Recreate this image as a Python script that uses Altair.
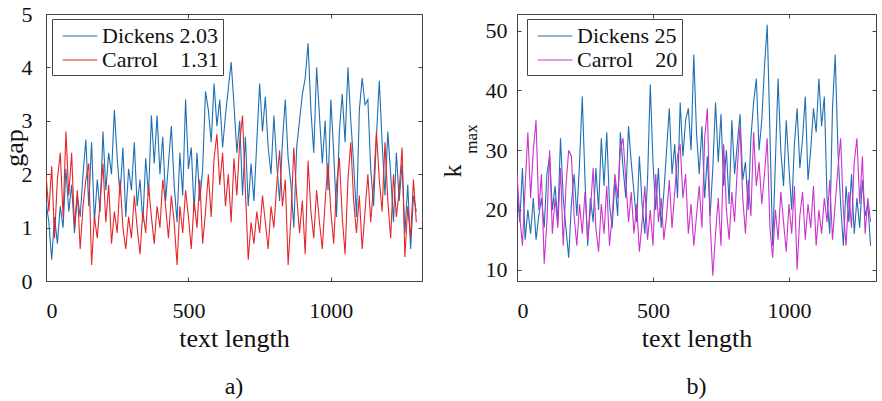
import altair as alt
import pandas as pd

text_length = list(range(0, 1301, 10))

gap_dickens = [
    1.5, 1.1, 0.4, 1.2, 0.7, 1.4, 1.0, 2.1, 1.3, 1.8,
    0.9, 1.6, 1.2, 2.0, 2.65, 1.4, 2.6, 1.1, 1.9, 1.3,
    2.8, 1.7, 2.4, 2.0, 3.2, 2.3, 1.6, 2.5, 1.2, 2.1,
    1.7, 2.6, 1.4, 1.9, 1.1, 2.3, 1.6, 3.1, 2.2, 3.1,
    2.0, 2.7, 1.5, 2.2, 2.9, 1.8, 1.1, 2.4, 1.6, 3.4,
    2.1, 2.5, 1.3, 2.4, 1.5, 2.1, 3.55, 3.2, 2.6, 3.7,
    2.9, 3.4, 2.5, 3.1, 3.6, 4.1, 3.3, 2.4, 3.0, 1.6,
    2.7, 1.4, 2.2, 1.5, 2.6, 3.7, 2.8, 3.45, 2.5, 2.0,
    3.1, 2.2, 1.5, 2.6, 3.4, 2.3, 1.8, 1.0, 2.5, 3.0,
    3.5, 3.8, 4.45, 3.2, 2.4, 4.0, 3.1, 2.2, 3.0, 1.7,
    3.4, 2.4, 1.2, 2.8, 3.5, 2.6, 4.0, 3.0, 2.2, 1.2,
    3.2, 3.8, 3.3, 3.4, 2.1, 1.4, 2.7, 3.75, 2.6, 1.6,
    2.8, 2.0, 1.1, 2.4, 1.5, 2.2, 0.9, 1.8, 0.6, 1.6,
    1.3,
]
gap_carrol = [
    2.0, 1.3, 2.15, 0.8, 1.9, 2.4, 1.2, 2.8, 1.6, 2.4,
    1.0, 1.7, 0.6, 1.4, 1.9, 2.2, 0.3, 1.2, 0.8, 1.5,
    2.2, 1.1, 1.8, 0.7, 1.3, 0.9, 1.9, 1.0, 0.6, 1.2,
    0.8, 1.6, 1.0, 0.5, 1.3, 0.9, 1.8, 1.2, 0.7, 1.4,
    1.0, 1.9, 1.4, 0.8, 1.6, 1.1, 0.3, 1.4, 0.9, 1.7,
    1.2, 0.6, 1.5, 1.0, 1.9, 0.7, 1.3, 2.0, 1.2, 2.3,
    2.75, 1.8, 2.4, 1.4, 2.0, 1.1, 2.3, 1.6, 2.6, 3.1,
    1.7, 0.4, 1.1, 0.7, 1.3, 0.9, 1.6, 1.1, 0.6, 1.4,
    1.0, 1.8, 2.45, 1.4, 1.9, 0.3, 1.2, 2.5, 1.6, 0.9,
    1.5, 0.5, 2.25, 1.3, 0.8, 1.7, 1.1, 0.6, 1.5, 2.2,
    1.3, 0.7, 1.8, 2.3, 1.2, 0.5, 1.9, 2.6, 1.5, 0.9,
    1.6, 0.6, 1.3, 2.0, 1.1, 1.8, 2.8, 1.9, 1.3, 2.6,
    1.5, 0.8, 2.0, 1.2, 1.7, 2.5, 0.45, 1.4, 0.8, 1.9,
    1.1,
]
kmax_dickens = [
    24, 18, 27, 15, 20, 16, 22, 15, 19, 22,
    17, 26, 29, 20, 24, 18, 32, 22, 17, 12,
    21, 26, 19, 28, 39, 25, 14, 22, 18, 27,
    20, 32, 24, 33, 21, 17, 25, 19, 33, 27,
    22, 34, 28, 23, 18, 29, 21, 16, 25, 41,
    28, 20, 27, 17, 23, 30, 37, 26, 31, 22,
    38, 29, 35, 37, 30, 46, 33, 26, 34, 22,
    29, 19, 27, 38, 28, 36, 24, 30, 21, 35,
    26, 31, 36, 25, 28, 20, 32, 38, 42, 30,
    35, 44, 51, 33, 14, 28, 42, 30, 24, 35,
    27, 20, 31, 37, 27, 32, 39, 25, 30, 37,
    33, 42, 34, 39, 22, 16, 37, 46, 30, 21,
    14, 24, 18, 26, 16, 22, 17, 25, 19, 21,
    14,
]
kmax_carrol = [
    26, 19, 14, 24, 33, 22, 30, 35, 20, 26,
    11, 18, 30, 16, 22, 17, 27, 14, 24, 30,
    29, 19, 14, 21, 16, 23, 15, 20, 27, 17,
    13, 21, 16, 24, 14, 19, 26, 22, 30, 32,
    25, 18, 23, 16, 21, 13, 18, 24, 15, 20,
    14, 26, 18, 22, 15, 19, 25, 17, 23, 29,
    31, 22, 26, 16, 21, 14, 19, 24, 17, 32,
    37, 18, 9, 16, 22, 14, 31, 20, 15, 23,
    18, 27, 34, 22, 16, 25, 19, 33, 24, 28,
    21, 26, 32, 17, 12, 20, 15, 23, 18, 13,
    21, 16, 24, 10, 19, 23, 15, 21, 17, 24,
    14, 20, 16, 22, 18, 25, 15, 21, 27, 32,
    20, 14, 23, 17, 28, 32, 21, 29, 16, 22,
    18,
]

NB = "\u00a0"
left_labels = ["Dickens 2.03", "Carrol" + NB * 4 + "1.31"]
right_labels = ["Dickens 25", "Carrol" + NB * 4 + "20"]
x_ticks = [0, 500, 1000]
gap_ticks = [0, 1, 2, 3, 4, 5]
kmax_ticks = [10, 20, 30, 40, 50]

FONT = "Liberation Serif"
BLUE = "#1f6fb4"
RED = "#e5262b"
MAG = "#cc33cc"
INK = "#111111"
FRAME = "#444444"


def long_df(a, b, labels, field):
    return pd.DataFrame({
        "x": text_length + text_length,
        field: a + b,
        "series": [labels[0]] * len(a) + [labels[1]] * len(b),
    })


def legend(lx):
    return alt.Legend(
        title=None, orient="none", legendX=lx, legendY=5,
        symbolType="M-1.45,0H1.45", symbolSize=576, symbolStrokeWidth=1.2,
        symbolOffset=11, labelOffset=9, padding=4, rowPadding=0,
        labelFont=FONT, labelFontSize=22, labelColor=INK, labelLimit=400,
        strokeColor=FRAME, fillColor="white", cornerRadius=0,
    )


def panel(df, field, labels, colors, ydomain, yticks, ytitle, w, h, lab_pad, lx):
    xenc = alt.X("x:Q", scale=alt.Scale(domain=[0, 1320], nice=False, zero=False),
                 axis=alt.Axis(values=x_ticks, format="d", title="text length",
                               ticks=False, domain=False, grid=True,
                               gridDash=[4, h - 8, 4, 2000], gridColor=FRAME,
                               gridOpacity=1, labelPadding=19, titlePadding=4,
                               labelFont=FONT, titleFont=FONT))
    yaxis_kw = dict(values=yticks, ticks=False, domain=False, grid=True,
                    gridDash=[4, w - 8, 4, 2000], gridColor=FRAME, gridOpacity=1,
                    labelPadding=lab_pad, titlePadding=-6,
                    labelFont=FONT, titleFont=FONT)
    yaxis_kw["title"] = ytitle if ytitle else None
    yenc = alt.Y(f"{field}:Q", scale=alt.Scale(domain=ydomain, nice=False, zero=False),
                 axis=alt.Axis(**yaxis_kw))
    cenc = alt.Color("series:N", scale=alt.Scale(domain=labels, range=colors),
                     legend=legend(lx))
    base = alt.Chart(df)
    layers = []
    for lab in labels:
        layers.append(
            base.transform_filter(alt.datum.series == lab)
            .mark_line(strokeWidth=1.1, clip=True)
            .encode(x=xenc, y=yenc, color=cenc)
        )
    return layers


left_df = long_df(gap_dickens, gap_carrol, left_labels, "gap")
right_df = long_df(kmax_dickens, kmax_carrol, right_labels, "kmax")

LW, RW, H = 376, 359, 267

left_layers = panel(left_df, "gap", left_labels, [BLUE, RED], [0, 5], gap_ticks,
                    "gap", LW, H, 14, 6)
right_layers = panel(right_df, "kmax", right_labels, [BLUE, MAG], [8.1, 52.8], kmax_ticks,
                     None, RW, H, 10, 10)

k_txt = alt.Chart(pd.DataFrame({"t": ["k"]})).mark_text(
    angle=270, font=FONT, fontSize=26, color=INK, align="center", baseline="middle"
).encode(x=alt.value(-64), y=alt.value(157), text="t:N")
max_txt = alt.Chart(pd.DataFrame({"t": ["max"]})).mark_text(
    angle=270, font=FONT, fontSize=17, color=INK, align="center", baseline="middle"
).encode(x=alt.value(-45), y=alt.value(125), text="t:N")


def cap(txt):
    return alt.TitleParams(txt, orient="bottom", anchor="middle", frame="group",
                           font=FONT, fontSize=24, fontWeight="normal", color=INK,
                           offset=24)


left = alt.layer(*left_layers).properties(width=LW, height=H, title=cap("a)"))
right = alt.layer(*right_layers, k_txt, max_txt).properties(
    width=RW, height=H, title=cap("b)"))

chart = (
    alt.hconcat(left, right, spacing=16)
    .resolve_scale(color="independent", x="independent", y="independent")
    .resolve_legend(color="independent")
    .properties(padding={"left": 0, "top": 2, "right": 1, "bottom": 2},
                background="white")
    .configure(font=FONT)
    .configure_view(stroke=FRAME, strokeWidth=1)
    .configure_axis(labelFont=FONT, labelFontSize=22, labelColor=INK,
                    titleFont=FONT, titleFontSize=26, titleFontWeight="normal",
                    titleColor=INK)
    .configure_legend(labelFont=FONT)
)

chart.save("out.html", embed_options={"renderer": "svg", "actions": False})
